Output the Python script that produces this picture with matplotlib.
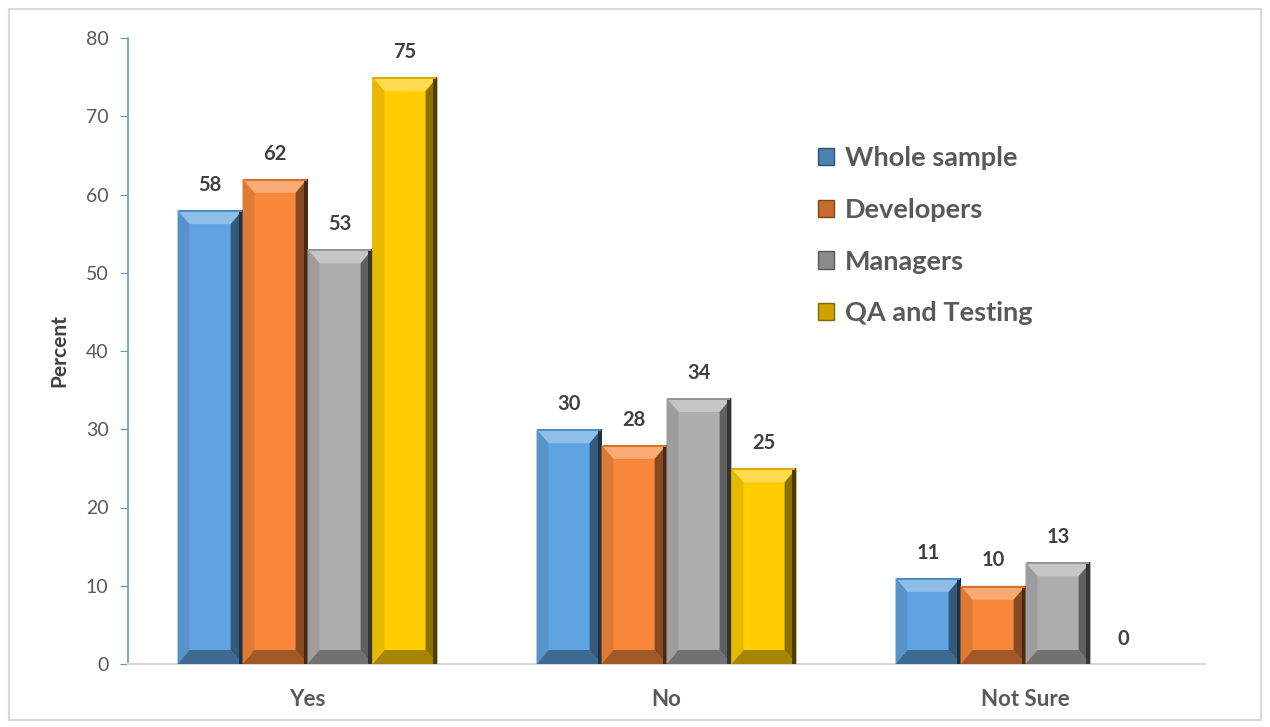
import matplotlib.pyplot as plt
import matplotlib.colors as mcolors
from matplotlib.patches import Polygon, Rectangle
import numpy as np

plt.rcParams['font.family'] = ['Lato', 'DejaVu Sans']

categories = ['Yes', 'No', 'Not Sure']
groups = ['Whole sample', 'Developers', 'Managers', 'QA and Testing']
values = {
    'Whole sample': [58, 30, 11],
    'Developers': [62, 28, 10],
    'Managers': [53, 34, 13],
    'QA and Testing': [75, 25, 0],
}
colors = ['#5FA3E0', '#F8873A', '#AEAEAE', '#FFCC00']
text_gray = '#595959'


def shade(c, f):
    # f > 0 lightens toward white, f < 0 darkens toward black
    r = np.array(mcolors.to_rgb(c))
    if f >= 0:
        return tuple(r + (1 - r) * f)
    return tuple(r * (1 + f))


def bevel(ax, patch, color, d=14):
    # beveled faces on a bar, built in pixel space and mapped back to data coords
    x0, y0 = patch.get_x(), patch.get_y()
    w, h = patch.get_width(), patch.get_height()
    if h <= 0:
        return
    to_px = ax.transData
    inv = ax.transData.inverted()
    (px0, py0) = to_px.transform((x0, y0))
    (px1, py1) = to_px.transform((x0 + w, y0 + h))
    dd = min(d, (py1 - py0) / 2.0, (px1 - px0) / 2.0)
    ds = dd * 0.85
    inner = [(px0 + ds, py0 + dd), (px1 - ds, py0 + dd),
             (px1 - ds, py1 - dd), (px0 + ds, py1 - dd)]
    faces = [
        ([(px0, py1), (px1, py1), inner[2], inner[3]], shade(color, 0.30)),  # top
        ([(px0, py0), (px1, py0), inner[1], inner[0]], shade(color, -0.35)),  # bottom
        ([(px0, py0), inner[0], inner[3], (px0, py1)], shade(color, -0.10)),  # left
        ([(px1, py0), (px1, py1), inner[2], inner[1]], shade(color, -0.45)),  # right
    ]
    for pts, fc in faces:
        ax.add_patch(Polygon(inv.transform(pts), closed=True, facecolor=fc,
                             edgecolor='none', zorder=3))
    # darker outer edge on the right
    strip = inv.transform([(px1 - 4, py0), (px1, py0), (px1, py1), (px1 - 4, py1)])
    ax.add_patch(Polygon(strip, closed=True, facecolor=shade(color, -0.7),
                         edgecolor='none', zorder=3))
    # thin line along the very top edge
    hi = inv.transform([(px0 + 1, py1 - 2), (px1 - 1, py1 - 2), (px1 - 1, py1), (px0 + 1, py1)])
    ax.add_patch(Polygon(hi, closed=True, facecolor=shade(color, -0.15),
                         edgecolor='none', zorder=3))


fig = plt.figure(figsize=(12.7, 7.27), dpi=100)
ax = fig.add_axes([128 / 1270, 1 - 664 / 727, (1205 - 128) / 1270, (664 - 38) / 727])

x = np.arange(len(categories))
width = 0.181
offsets = (np.arange(len(groups)) - 1.5) * width

ax.set_xlim(-0.5, 2.5)
ax.set_ylim(0, 80)

bars = []
for i, g in enumerate(groups):
    b = ax.bar(x + offsets[i], values[g], width, color=colors[i], label=g, zorder=2)
    bars.append(b)

for i, g in enumerate(groups):
    for patch, v in zip(bars[i], values[g]):
        bevel(ax, patch, colors[i])
        ax.annotate(str(v), (patch.get_x() + patch.get_width() / 2, v),
                    xytext=(0, 11), textcoords='offset points', ha='center', va='bottom',
                    fontsize=14.5, fontweight='bold', color='#404040')

ax.set_xticks(x)
ax.set_xticklabels(categories, fontsize=16, fontweight='bold', color=text_gray)
ax.set_yticks(np.arange(0, 81, 10))
ax.tick_params(axis='y', labelsize=14, labelcolor=text_gray, color='#5B9BD5',
               length=6, direction='out', pad=8)
ax.tick_params(axis='x', length=0, pad=18)
ax.set_ylabel('Percent', fontsize=15, fontweight='bold', color='#404040', labelpad=12)

for s in ['top', 'right']:
    ax.spines[s].set_visible(False)
ax.spines['left'].set_color('#5B9BD5')
ax.spines['left'].set_linewidth(1.2)
ax.spines['bottom'].set_color('#D9D9D9')
ax.spines['bottom'].set_linewidth(1.5)

# legend with small square keys
handles = [Rectangle((0, 0), 1, 1, facecolor=shade(c, -0.2), edgecolor=shade(c, -0.5))
           for c in colors]
leg = ax.legend(handles, groups, loc='upper left', bbox_to_anchor=(0.618, 0.866),
                frameon=False, prop={'size': 19.5, 'weight': 'bold'},
                labelcolor=text_gray, handlelength=0.6, handleheight=0.6,
                handletextpad=0.4, labelspacing=1.02)

fig.patches.append(Rectangle((9 / 1270, 7 / 727), 1 - 18 / 1270, 1 - 16 / 727,
                             transform=fig.transFigure, fill=False,
                             edgecolor='#D9D9D9', linewidth=1.5))

fig.savefig('out.png', dpi=100)
